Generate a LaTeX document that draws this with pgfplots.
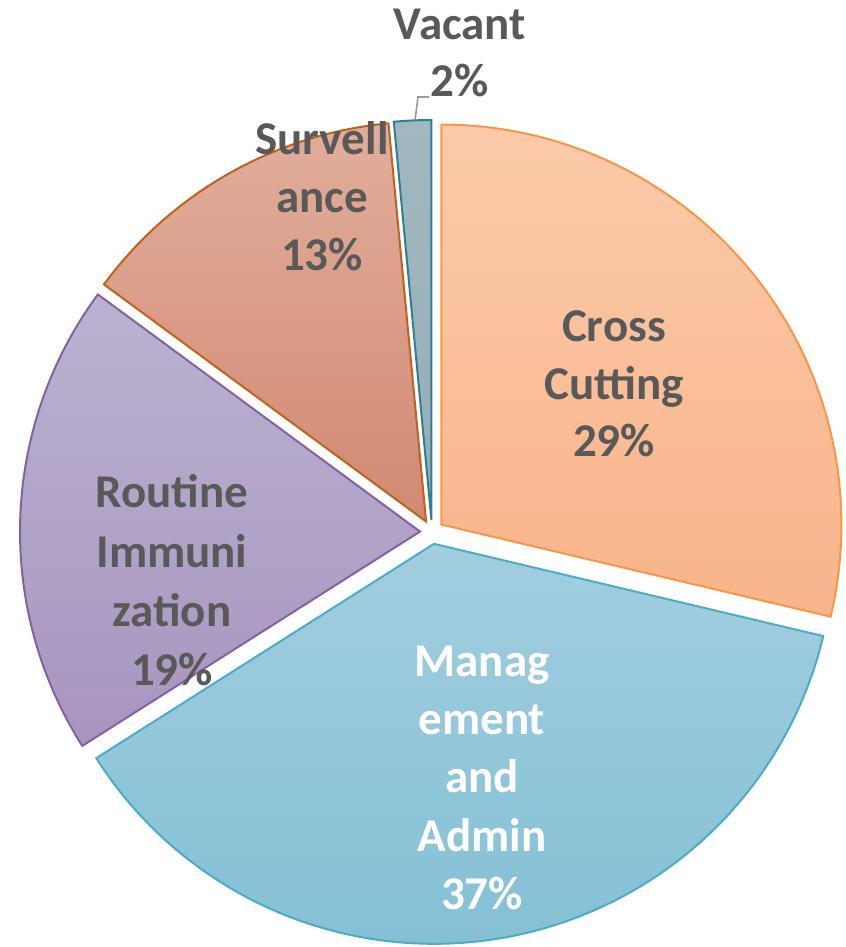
\documentclass[border=0pt]{standalone}
\usepackage{pgfplots}
\usepackage{pgfplotstable}
\pgfplotsset{compat=1.18}
\usepackage{fontspec}
\setmainfont{Carlito}
\definecolor{lab}{HTML}{595959}
\definecolor{ccT}{HTML}{FBCAA9}\definecolor{ccB}{HTML}{F9B48A}\definecolor{ccE}{HTML}{F79646}
\definecolor{maT}{HTML}{A2CEDF}\definecolor{maB}{HTML}{84C0D5}\definecolor{maE}{HTML}{4BACC6}
\definecolor{riT}{HTML}{BCB2D0}\definecolor{riB}{HTML}{A795BF}\definecolor{riE}{HTML}{8064A2}
\definecolor{suT}{HTML}{E1AE9C}\definecolor{suB}{HTML}{D28972}\definecolor{suE}{HTML}{C0621A}
\definecolor{vaT}{HTML}{A2B8C0}\definecolor{vaB}{HTML}{93ADB7}\definecolor{vaE}{HTML}{2E7F94}

\pgfplotstableread{
name value
CrossCutting 28.7
Management 37.3
Routine 19.1
Surveillance 13.4
Vacant 1.5
}\piedata

\newcommand\cum{0}
\newcommand\cx{432}
\newcommand\cy{415}
\newcommand\rad{400}
\newcommand\expl{12}

\newcommand\slice[4]{%
  \edef\temp{\noexpand\addplot[top color=#2, bottom color=#3, draw=#4, line width=1bp, line join=miter,
     domain=\csname eA#1\endcsname:\csname sA#1\endcsname, samples=90, smooth=false]
     ({\csname tx#1\endcsname+\rad*cos(x)},{\csname ty#1\endcsname+\rad*sin(x)})
     -- (axis cs:\csname tx#1\endcsname,\csname ty#1\endcsname) -- cycle;}%
  \temp
}
% one line of label: x, baseline (pixel from top), text
\newcommand\lab[4][lab]{\node[anchor=base, text=#1] at (axis cs:#2,{947-#3}) {#4};}

\begin{document}
\begin{tikzpicture}
\foreach \i in {0,...,4}{%
  \pgfplotstablegetelem{\i}{value}\of\piedata
  \pgfmathsetmacro\s{90-3.6*\cum}%
  \pgfmathsetmacro\e{90-3.6*(\cum+\pgfplotsretval)}%
  \pgfmathsetmacro\m{(\s+\e)/2}%
  \pgfmathsetmacro\tx{\cx+\expl*cos(\m)}%
  \pgfmathsetmacro\ty{\cy+\expl*sin(\m)}%
  \expandafter\xdef\csname sA\i\endcsname{\s}%
  \expandafter\xdef\csname eA\i\endcsname{\e}%
  \expandafter\xdef\csname tx\i\endcsname{\tx}%
  \expandafter\xdef\csname ty\i\endcsname{\ty}%
  \pgfmathsetmacro\c{\cum+\pgfplotsretval}%
  \xdef\cum{\c}%
}
\begin{axis}[name=pie, scale only axis, width=423bp, height=473.5bp,
  xmin=0, xmax=846, ymin=0, ymax=947, axis lines=none, clip=false]
\slice{0}{ccT}{ccB}{ccE}
\slice{1}{maT}{maB}{maE}
\slice{2}{riT}{riB}{riE}
\slice{3}{suT}{suB}{suE}
\slice{4}{vaT}{vaB}{vaE}
\addplot[color=black!40, line width=0.8bp, no marks] coordinates {(415,827) (418,850) (429,850)};
\begin{scope}[every node/.style={font=\fontsize{23.5bp}{29bp}\selectfont\bfseries, inner sep=0pt}]
\lab{460}{40}{Vacant}
\lab{460}{97}{2\%}
\lab{322}{155}{Survell}
\lab{322}{213}{ance}
\lab{322}{271}{13\%}
\lab{614}{342}{Cross}
\lab{614}{400}{Cutting}
\lab{614}{457}{29\%}
\lab{172}{508}{Routine}
\lab{172}{568}{Immuni}
\lab{172}{627}{zation}
\lab{172}{686}{19\%}
\lab[white]{482}{677}{Manag}
\lab[white]{482}{735}{ement}
\lab[white]{482}{793}{and}
\lab[white]{482}{852}{Admin}
\lab[white]{482}{910}{37\%}
\end{scope}
\end{axis}
\pgfresetboundingbox
\path[use as bounding box] (pie.south west) rectangle (pie.north east);
\end{tikzpicture}
\end{document}
